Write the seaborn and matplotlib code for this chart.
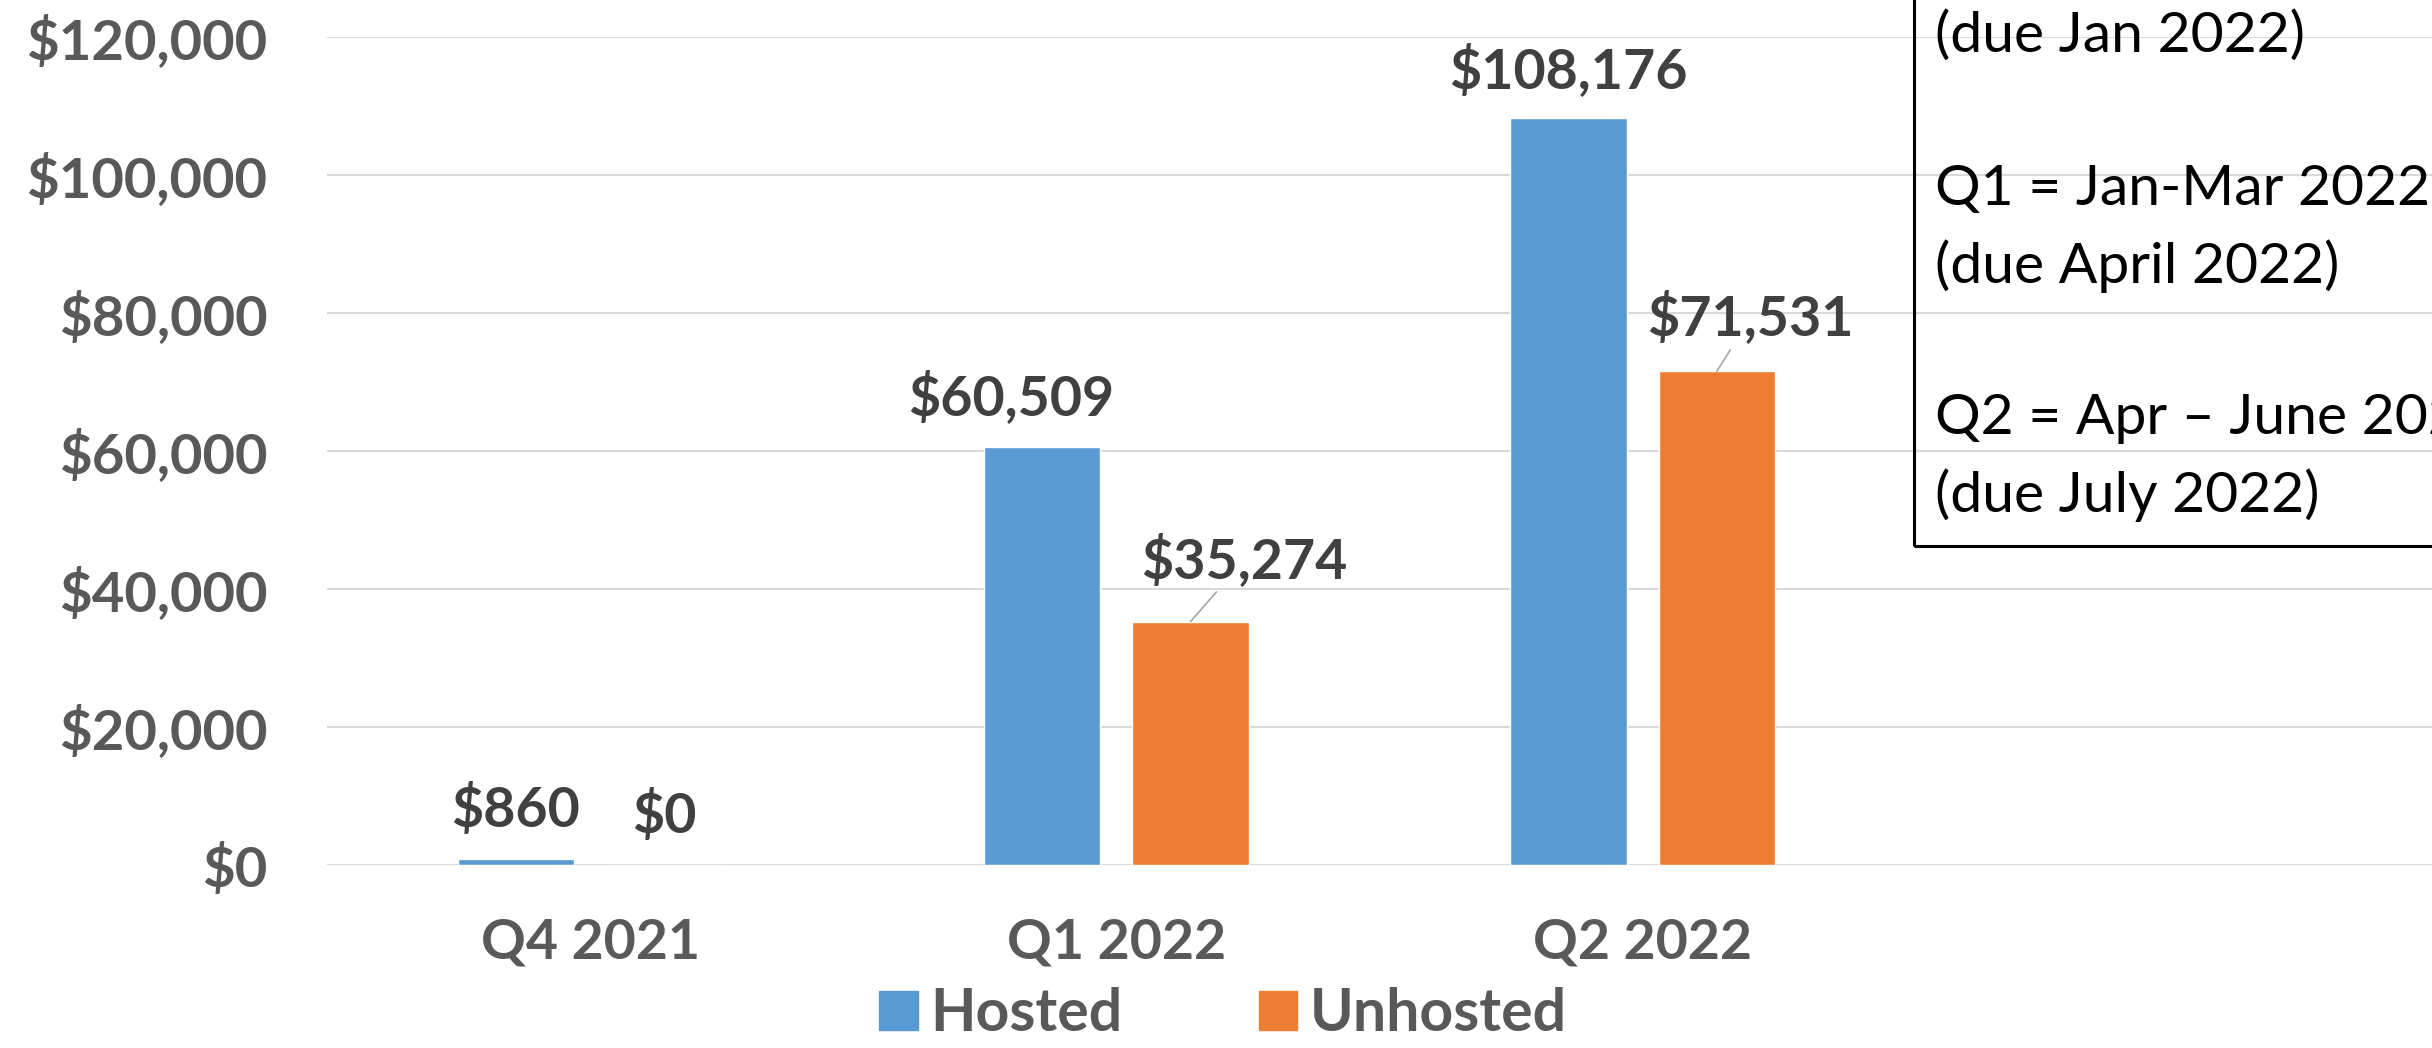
import matplotlib
matplotlib.use("Agg")
import matplotlib.pyplot as plt
import matplotlib.patches as mpatches
from matplotlib.ticker import FuncFormatter
import seaborn as sns
import pandas as pd

# Dati
trimestri = ["Q4 2021", "Q1 2022", "Q2 2022"]
serie = ["Hosted", "Unhosted"]
hosted = [860, 60509, 108176]
unhosted = [0, 35274, 71531]
note = ["(due Jan 2022)", "", "Q1 = Jan-Mar 2022", "(due April 2022)", "",
        "Q2 = Apr \u2013 June 2022", "(due July 2022)"]

# Stile
colori = ["#5B9BD5", "#ED7D31"]
grigio_assi = "#595959"
grigio_etichette = "#404040"

sns.set_style("white")
plt.rcParams['font.family'] = ['Lato', 'DejaVu Sans']

df = pd.DataFrame({
    "Trimestre": trimestri * 2,
    "Tipo": [serie[0]] * len(trimestri) + [serie[1]] * len(trimestri),
    "Valore": hosted + unhosted,
})

fig = plt.figure(figsize=(24.32, 10.48), dpi=100)
ax = fig.add_axes([0.1345, 0.1746, 0.8655, 0.7904])

sns.barplot(data=df, x="Trimestre", y="Valore", hue="Tipo", order=trimestri,
            hue_order=serie, palette=colori, width=0.564, gap=0.216,
            saturation=1, legend=False, ax=ax)

ax.set_xlim(-0.5, 3.5)
ax.set_ylim(0, 120000)
ax.set_yticks(range(0, 120001, 20000))
ax.yaxis.set_major_formatter(FuncFormatter(lambda v, pos: f"${v:,.0f}"))
ax.set_xlabel("")
ax.set_ylabel("")
ax.yaxis.grid(True, color="#D9D9D9", linewidth=1.5)
ax.set_axisbelow(True)
for s in ax.spines.values():
    s.set_visible(False)
ax.tick_params(axis="y", length=0, pad=43, labelsize=40.5, labelcolor=grigio_assi)
ax.tick_params(axis="x", length=0, pad=38, labelsize=40, labelcolor=grigio_assi)
for lab in ax.get_xticklabels() + ax.get_yticklabels():
    lab.set_fontweight("bold")

# etichette dei valori (spostamenti in pixel rispetto alla cima della barra)
spostamenti = [[(0, 50), (-31, 50), (0, 48)],
               [(0, 50), (54, 62), (34, 54)]]
con_linea = [[False, False, False], [False, True, True]]
for i, cont in enumerate(ax.containers):
    for j, bar in enumerate(cont):
        xc = bar.get_x() + bar.get_width() / 2
        h = bar.get_height()
        dx, dy = spostamenti[i][j]
        frecce = None
        if con_linea[i][j]:
            frecce = dict(arrowstyle="-", color="#A6A6A6", lw=1.2, shrinkA=2, shrinkB=0)
        ax.annotate(f"${h:,.0f}", xy=(xc, h), xytext=(dx, dy), textcoords="offset pixels",
                    ha="center", va="center", fontsize=40, fontweight="bold",
                    color=grigio_etichette, arrowprops=frecce)

# riquadro con le note
riquadro = mpatches.Rectangle((1914 / 2432, 1 - 546 / 1048), 0.3, 0.6, transform=fig.transFigure,
                              fill=False, edgecolor="black", linewidth=2.2, clip_on=False)
fig.patches.append(riquadro)
for k, riga in enumerate(note):
    if riga:
        fig.text(1935 / 2432, 1 - (36 + 76.6 * k) / 1048, riga, ha="left", va="center",
                 fontsize=41, color="black")

# legenda
maniglie = [mpatches.Patch(color=c, label=s) for c, s in zip(colori, serie)]
leg = fig.legend(handles=maniglie, loc="center", bbox_to_anchor=(0.503, 0.032), ncol=2,
                 frameon=False, handlelength=0.65, handleheight=0.65, handletextpad=0.22,
                 columnspacing=2.3, borderpad=0.1, prop={"size": 42.5, "weight": "bold"})
for t in leg.get_texts():
    t.set_color(grigio_assi)

fig.savefig("out.png", dpi=100)
